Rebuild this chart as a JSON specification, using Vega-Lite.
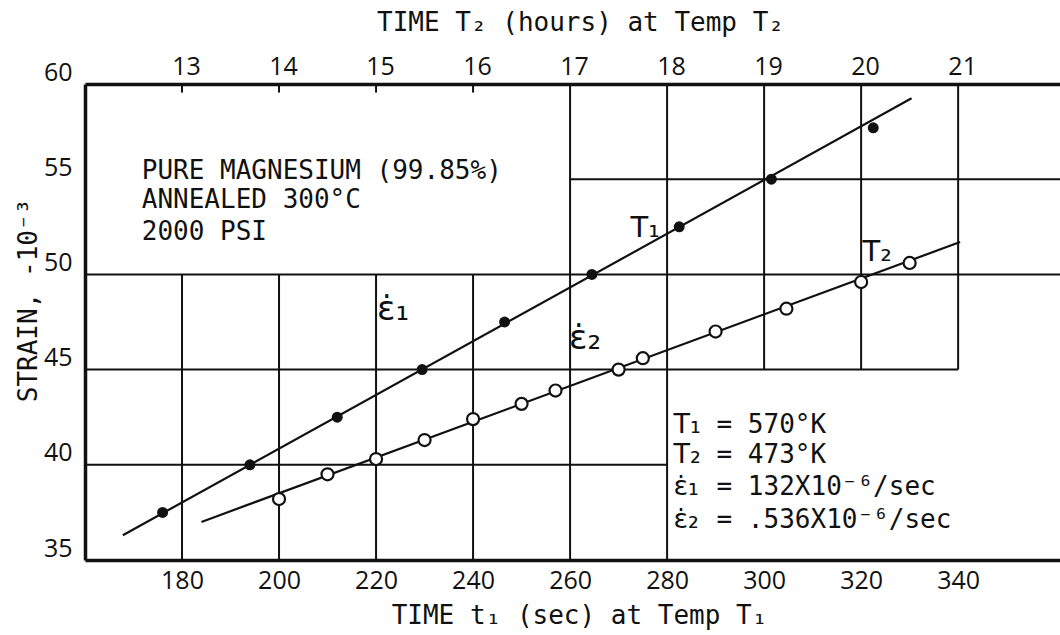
{
  "$schema": "https://vega.github.io/schema/vega-lite/v6.json",
  "width": 975,
  "height": 476,
  "autosize": {"type": "none"},
  "padding": {"left": 85, "top": 84, "right": 0, "bottom": 75},
  "background": "white",
  "config": {"view": {"stroke": null}, "font": "DejaVu Sans Mono"},
  "datasets": {
    "grid": [
      {"sec": 160, "sec2": 280, "strain": 40, "strain2": 40},
      {"sec": 160, "sec2": 340, "strain": 45, "strain2": 45},
      {"sec": 160, "sec2": 361, "strain": 50, "strain2": 50},
      {"sec": 260, "sec2": 361, "strain": 55, "strain2": 55},
      {"sec": 180, "sec2": 180, "strain": 35, "strain2": 50},
      {"sec": 200, "sec2": 200, "strain": 35, "strain2": 50},
      {"sec": 220, "sec2": 220, "strain": 35, "strain2": 50},
      {"sec": 240, "sec2": 240, "strain": 35, "strain2": 50},
      {"sec": 260, "sec2": 260, "strain": 35, "strain2": 60},
      {"sec": 280, "sec2": 280, "strain": 35, "strain2": 60},
      {"sec": 300, "sec2": 300, "strain": 45, "strain2": 60},
      {"sec": 320, "sec2": 320, "strain": 45, "strain2": 60},
      {"sec": 340, "sec2": 340, "strain": 45, "strain2": 60},
      {"sec": 180, "sec2": 180, "strain": 59.55, "strain2": 60},
      {"sec": 200, "sec2": 200, "strain": 59.55, "strain2": 60},
      {"sec": 220, "sec2": 220, "strain": 59.55, "strain2": 60},
      {"sec": 240, "sec2": 240, "strain": 59.55, "strain2": 60}
    ],
    "t1": [
      {"sec": 176, "strain": 37.5},
      {"sec": 194, "strain": 40},
      {"sec": 212, "strain": 42.5},
      {"sec": 229.5, "strain": 45},
      {"sec": 246.5, "strain": 47.5},
      {"sec": 264.5, "strain": 50},
      {"sec": 282.5, "strain": 52.5},
      {"sec": 301.5, "strain": 55},
      {"sec": 322.5, "strain": 57.7}
    ],
    "t1fit": [
      {"sec": 167.8, "strain": 36.3},
      {"sec": 330.4, "strain": 59.25}
    ],
    "t2": [
      {"hours": 14.0, "strain": 38.2},
      {"hours": 14.5, "strain": 39.5},
      {"hours": 15.0, "strain": 40.3},
      {"hours": 15.5, "strain": 41.3},
      {"hours": 16.0, "strain": 42.4},
      {"hours": 16.5, "strain": 43.2},
      {"hours": 16.85, "strain": 43.9},
      {"hours": 17.5, "strain": 45.0},
      {"hours": 17.75, "strain": 45.6},
      {"hours": 18.5, "strain": 47.0},
      {"hours": 19.23, "strain": 48.2},
      {"hours": 20.0, "strain": 49.6},
      {"hours": 20.5, "strain": 50.6}
    ],
    "t2fit": [
      {"hours": 13.2, "strain": 37.0},
      {"hours": 21.02, "strain": 51.7}
    ],
    "notesLeft": [
      {"sec": 171.7, "strain": 55.45, "label": "PURE MAGNESIUM (99.85%)"},
      {"sec": 171.7, "strain": 53.9, "label": "ANNEALED 300°C"},
      {"sec": 171.7, "strain": 52.25, "label": "2000 PSI"},
      {"sec": 290.2, "strain": 42.09, "label": "= 570°K"},
      {"sec": 290.2, "strain": 40.5, "label": "= 473°K"},
      {"sec": 290.2, "strain": 38.83, "label": "= 132X10⁻⁶/sec"},
      {"sec": 290.2, "strain": 37.1, "label": "= .536X10⁻⁶/sec"}
    ],
    "symbols": [
      {"sec": 281.3, "strain": 42.09, "label": "T₁"},
      {"sec": 281.3, "strain": 40.5, "label": "T₂"},
      {"sec": 281.3, "strain": 38.83, "label": "ε̇₁"},
      {"sec": 281.3, "strain": 37.1, "label": "ε̇₂"}
    ],
    "lineLabels": [
      {"sec": 275.5, "strain": 52.44, "label": "T₁"},
      {"sec": 323.3, "strain": 51.18, "label": "T₂"}
    ],
    "rateLabels": [
      {"sec": 223.5, "strain": 48.13, "label": "ε̇₁"},
      {"sec": 263.1, "strain": 46.6, "label": "ε̇₂"}
    ]
  },
  "layer": [
    {
      "layer": [
        {
          "data": {"name": "grid"},
          "mark": {"type": "rule", "stroke": "#111", "strokeWidth": 2},
          "encoding": {
            "x": {
              "field": "sec", "type": "quantitative",
              "scale": {"domain": [160, 361], "nice": false, "zero": false},
              "axis": {
                "orient": "bottom", "values": [180, 200, 220, 240, 260, 280, 300, 320, 340],
                "format": "d",
                "title": "TIME t₁ (sec) at Temp T₁",
                "grid": false, "ticks": false, "labelFlush": false,
                "domainColor": "#111", "domainWidth": 3.5,
                "labelFont": "Open Sans", "labelFontSize": 25, "labelColor": "#111", "labelPadding": 8,
                "titleFont": "DejaVu Sans Mono", "titleFontSize": 26, "titleFontWeight": "normal", "titleColor": "#111",
                "titleX": 494, "titleY": 55, "titleBaseline": "middle", "titleAlign": "center"
              }
            },
            "x2": {"field": "sec2"},
            "y": {
              "field": "strain", "type": "quantitative",
              "scale": {"domain": [35, 60], "nice": false, "zero": false},
              "axis": {
                "orient": "left", "values": [35, 40, 45, 50, 55, 60],
                "format": "d",
                "title": "STRAIN,  -10⁻³",
                "grid": false, "ticks": false, "labelFlush": false,
                "domainColor": "#111", "domainWidth": 3.5,
                "labelFont": "Open Sans", "labelFontSize": 25, "labelColor": "#111", "labelPadding": 13, "labelOffset": -12,
                "titleFont": "DejaVu Sans Mono", "titleFontSize": 26, "titleFontWeight": "normal", "titleColor": "#111",
                "titleX": -57, "titleY": 216, "titleAngle": -90, "titleBaseline": "middle", "titleAlign": "center"
              }
            },
            "y2": {"field": "strain2"}
          }
        },
        {
          "data": {"name": "t1fit"},
          "mark": {"type": "line", "stroke": "#111", "strokeWidth": 2.2},
          "encoding": {
            "x": {"field": "sec", "type": "quantitative", "scale": {"domain": [160, 361], "nice": false, "zero": false}},
            "y": {"field": "strain", "type": "quantitative", "scale": {"domain": [35, 60], "nice": false, "zero": false}}
          }
        },
        {
          "data": {"name": "t1"},
          "mark": {"type": "point", "shape": "circle", "filled": true, "color": "#111", "size": 120, "opacity": 1},
          "encoding": {
            "x": {"field": "sec", "type": "quantitative", "scale": {"domain": [160, 361], "nice": false, "zero": false}},
            "y": {"field": "strain", "type": "quantitative", "scale": {"domain": [35, 60], "nice": false, "zero": false}}
          }
        },
        {
          "data": {"name": "notesLeft"},
          "mark": {"type": "text", "align": "left", "baseline": "middle", "font": "DejaVu Sans Mono", "fontSize": 26, "color": "#111"},
          "encoding": {
            "x": {"field": "sec", "type": "quantitative", "scale": {"domain": [160, 361], "nice": false, "zero": false}},
            "y": {"field": "strain", "type": "quantitative", "scale": {"domain": [35, 60], "nice": false, "zero": false}},
            "text": {"field": "label"}
          }
        },
        {
          "data": {"name": "symbols"},
          "mark": {"type": "text", "align": "left", "baseline": "middle", "font": "DejaVu Sans", "fontSize": 27, "color": "#111"},
          "encoding": {
            "x": {"field": "sec", "type": "quantitative", "scale": {"domain": [160, 361], "nice": false, "zero": false}},
            "y": {"field": "strain", "type": "quantitative", "scale": {"domain": [35, 60], "nice": false, "zero": false}},
            "text": {"field": "label"}
          }
        },
        {
          "data": {"name": "lineLabels"},
          "mark": {"type": "text", "align": "center", "baseline": "middle", "font": "DejaVu Sans", "fontSize": 29, "color": "#111"},
          "encoding": {
            "x": {"field": "sec", "type": "quantitative", "scale": {"domain": [160, 361], "nice": false, "zero": false}},
            "y": {"field": "strain", "type": "quantitative", "scale": {"domain": [35, 60], "nice": false, "zero": false}},
            "text": {"field": "label"}
          }
        },
        {
          "data": {"name": "rateLabels"},
          "mark": {"type": "text", "align": "center", "baseline": "middle", "font": "DejaVu Sans", "fontSize": 34, "color": "#111"},
          "encoding": {
            "x": {"field": "sec", "type": "quantitative", "scale": {"domain": [160, 361], "nice": false, "zero": false}},
            "y": {"field": "strain", "type": "quantitative", "scale": {"domain": [35, 60], "nice": false, "zero": false}},
            "text": {"field": "label"}
          }
        }
      ]
    },
    {
      "layer": [
        {
          "data": {"name": "t2fit"},
          "mark": {"type": "line", "stroke": "#111", "strokeWidth": 2.2},
          "encoding": {
            "x": {
              "field": "hours", "type": "quantitative",
              "scale": {"domain": [12, 22.05], "nice": false, "zero": false},
              "axis": {
                "orient": "top", "values": [13, 14, 15, 16, 17, 18, 19, 20, 21],
                "format": "d",
                "title": "TIME T₂ (hours) at Temp T₂",
                "grid": false, "ticks": false, "labelFlush": false,
                "domainColor": "#111", "domainWidth": 3.5,
                "labelFont": "Open Sans", "labelFontSize": 25, "labelColor": "#111", "labelPadding": 5, "labelOffset": 4,
                "titleFont": "DejaVu Sans Mono", "titleFontSize": 26, "titleFontWeight": "normal", "titleColor": "#111",
                "titleX": 495, "titleY": -62, "titleBaseline": "middle", "titleAlign": "center"
              }
            },
            "y": {"field": "strain", "type": "quantitative", "scale": {"domain": [35, 60], "nice": false, "zero": false}}
          }
        },
        {
          "data": {"name": "t2"},
          "mark": {"type": "point", "shape": "circle", "filled": true, "fill": "white", "stroke": "#111", "strokeWidth": 2.2, "size": 145, "opacity": 1},
          "encoding": {
            "x": {"field": "hours", "type": "quantitative", "scale": {"domain": [12, 22.05], "nice": false, "zero": false}},
            "y": {"field": "strain", "type": "quantitative", "scale": {"domain": [35, 60], "nice": false, "zero": false}}
          }
        }
      ]
    }
  ],
  "resolve": {"scale": {"x": "independent"}}
}
